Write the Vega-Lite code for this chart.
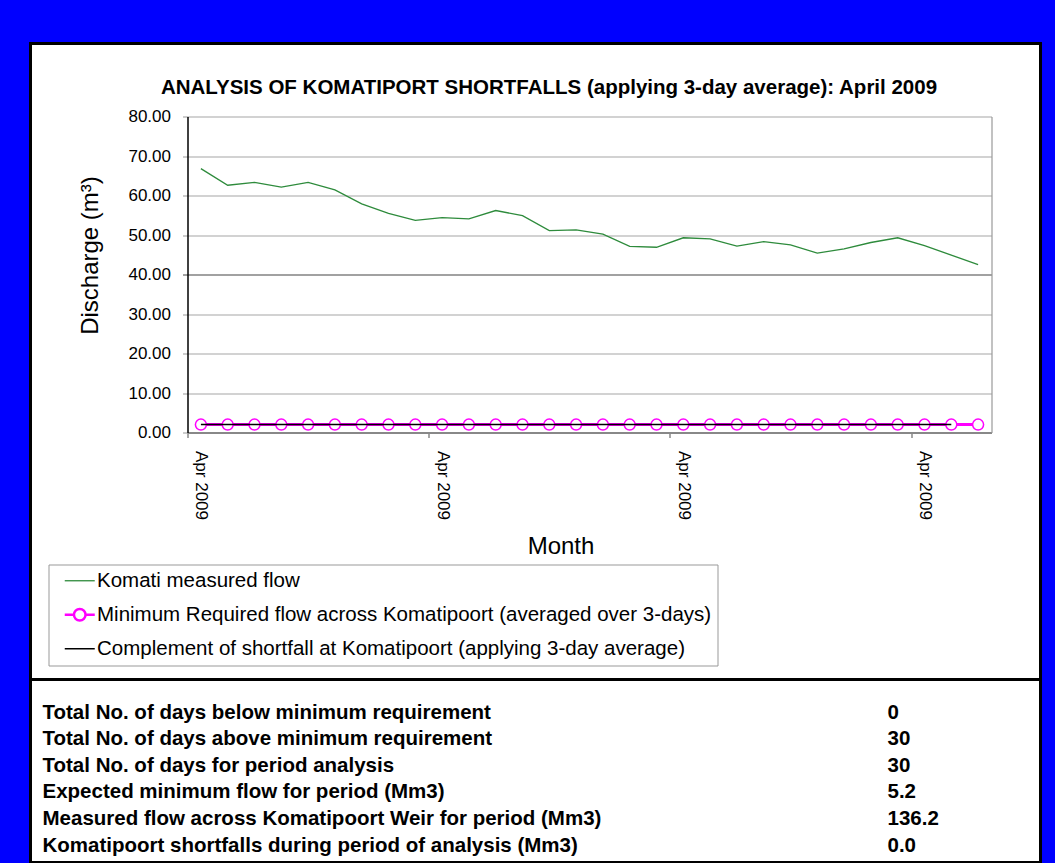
{
  "$schema": "https://vega.github.io/schema/vega-lite/v6.json",
  "background": "#0000FF",
  "padding": {"left": 28.5, "top": 41.5, "right": 13.5, "bottom": 0},
  "bounds": "flush",
  "spacing": 0,
  "config": {
    "font": "Liberation Sans",
    "view": {"fill": "white", "stroke": "black", "strokeWidth": 3},
    "axis": {"labelFont": "Liberation Sans", "titleFont": "Liberation Sans", "labelColor": "black", "titleColor": "black", "titleFontWeight": "normal"}
  },
  "vconcat": [
    {
      "width": 1010,
      "height": 636,
      "title": {"text": "ANALYSIS OF KOMATIPORT SHORTFALLS (applying 3-day average): April 2009", "font": "Liberation Sans", "fontSize": 20.5, "fontWeight": "bold", "color": "black", "anchor": "middle", "frame": "group", "baseline": "alphabetic", "offset": -70.5, "dx": 13.5},
      "data": {"values": [
        {"date": "2009-04-01", "series": "Komati measured flow", "value": 66.8},
        {"date": "2009-04-02", "series": "Komati measured flow", "value": 62.6},
        {"date": "2009-04-03", "series": "Komati measured flow", "value": 63.3},
        {"date": "2009-04-04", "series": "Komati measured flow", "value": 62.1},
        {"date": "2009-04-05", "series": "Komati measured flow", "value": 63.3},
        {"date": "2009-04-06", "series": "Komati measured flow", "value": 61.4},
        {"date": "2009-04-07", "series": "Komati measured flow", "value": 57.9},
        {"date": "2009-04-08", "series": "Komati measured flow", "value": 55.5},
        {"date": "2009-04-09", "series": "Komati measured flow", "value": 53.7},
        {"date": "2009-04-10", "series": "Komati measured flow", "value": 54.4},
        {"date": "2009-04-11", "series": "Komati measured flow", "value": 54.1},
        {"date": "2009-04-12", "series": "Komati measured flow", "value": 56.2},
        {"date": "2009-04-13", "series": "Komati measured flow", "value": 54.9},
        {"date": "2009-04-14", "series": "Komati measured flow", "value": 51.1},
        {"date": "2009-04-15", "series": "Komati measured flow", "value": 51.3},
        {"date": "2009-04-16", "series": "Komati measured flow", "value": 50.2},
        {"date": "2009-04-17", "series": "Komati measured flow", "value": 47.1},
        {"date": "2009-04-18", "series": "Komati measured flow", "value": 46.9},
        {"date": "2009-04-19", "series": "Komati measured flow", "value": 49.3},
        {"date": "2009-04-20", "series": "Komati measured flow", "value": 49.0},
        {"date": "2009-04-21", "series": "Komati measured flow", "value": 47.2},
        {"date": "2009-04-22", "series": "Komati measured flow", "value": 48.3},
        {"date": "2009-04-23", "series": "Komati measured flow", "value": 47.5},
        {"date": "2009-04-24", "series": "Komati measured flow", "value": 45.4},
        {"date": "2009-04-25", "series": "Komati measured flow", "value": 46.5},
        {"date": "2009-04-26", "series": "Komati measured flow", "value": 48.1},
        {"date": "2009-04-27", "series": "Komati measured flow", "value": 49.3},
        {"date": "2009-04-28", "series": "Komati measured flow", "value": 47.3},
        {"date": "2009-04-29", "series": "Komati measured flow", "value": 44.9},
        {"date": "2009-04-30", "series": "Komati measured flow", "value": 42.5},
        {"date": "2009-04-01", "series": "Minimum Required flow across Komatipoort (averaged over 3-days)", "value": 2.0},
        {"date": "2009-04-02", "series": "Minimum Required flow across Komatipoort (averaged over 3-days)", "value": 2.0},
        {"date": "2009-04-03", "series": "Minimum Required flow across Komatipoort (averaged over 3-days)", "value": 2.0},
        {"date": "2009-04-04", "series": "Minimum Required flow across Komatipoort (averaged over 3-days)", "value": 2.0},
        {"date": "2009-04-05", "series": "Minimum Required flow across Komatipoort (averaged over 3-days)", "value": 2.0},
        {"date": "2009-04-06", "series": "Minimum Required flow across Komatipoort (averaged over 3-days)", "value": 2.0},
        {"date": "2009-04-07", "series": "Minimum Required flow across Komatipoort (averaged over 3-days)", "value": 2.0},
        {"date": "2009-04-08", "series": "Minimum Required flow across Komatipoort (averaged over 3-days)", "value": 2.0},
        {"date": "2009-04-09", "series": "Minimum Required flow across Komatipoort (averaged over 3-days)", "value": 2.0},
        {"date": "2009-04-10", "series": "Minimum Required flow across Komatipoort (averaged over 3-days)", "value": 2.0},
        {"date": "2009-04-11", "series": "Minimum Required flow across Komatipoort (averaged over 3-days)", "value": 2.0},
        {"date": "2009-04-12", "series": "Minimum Required flow across Komatipoort (averaged over 3-days)", "value": 2.0},
        {"date": "2009-04-13", "series": "Minimum Required flow across Komatipoort (averaged over 3-days)", "value": 2.0},
        {"date": "2009-04-14", "series": "Minimum Required flow across Komatipoort (averaged over 3-days)", "value": 2.0},
        {"date": "2009-04-15", "series": "Minimum Required flow across Komatipoort (averaged over 3-days)", "value": 2.0},
        {"date": "2009-04-16", "series": "Minimum Required flow across Komatipoort (averaged over 3-days)", "value": 2.0},
        {"date": "2009-04-17", "series": "Minimum Required flow across Komatipoort (averaged over 3-days)", "value": 2.0},
        {"date": "2009-04-18", "series": "Minimum Required flow across Komatipoort (averaged over 3-days)", "value": 2.0},
        {"date": "2009-04-19", "series": "Minimum Required flow across Komatipoort (averaged over 3-days)", "value": 2.0},
        {"date": "2009-04-20", "series": "Minimum Required flow across Komatipoort (averaged over 3-days)", "value": 2.0},
        {"date": "2009-04-21", "series": "Minimum Required flow across Komatipoort (averaged over 3-days)", "value": 2.0},
        {"date": "2009-04-22", "series": "Minimum Required flow across Komatipoort (averaged over 3-days)", "value": 2.0},
        {"date": "2009-04-23", "series": "Minimum Required flow across Komatipoort (averaged over 3-days)", "value": 2.0},
        {"date": "2009-04-24", "series": "Minimum Required flow across Komatipoort (averaged over 3-days)", "value": 2.0},
        {"date": "2009-04-25", "series": "Minimum Required flow across Komatipoort (averaged over 3-days)", "value": 2.0},
        {"date": "2009-04-26", "series": "Minimum Required flow across Komatipoort (averaged over 3-days)", "value": 2.0},
        {"date": "2009-04-27", "series": "Minimum Required flow across Komatipoort (averaged over 3-days)", "value": 2.0},
        {"date": "2009-04-28", "series": "Minimum Required flow across Komatipoort (averaged over 3-days)", "value": 2.0},
        {"date": "2009-04-29", "series": "Minimum Required flow across Komatipoort (averaged over 3-days)", "value": 2.0},
        {"date": "2009-04-30", "series": "Minimum Required flow across Komatipoort (averaged over 3-days)", "value": 2.0},
        {"date": "2009-04-01", "series": "Complement of shortfall at Komatipoort (applying 3-day average)", "value": 2.0},
        {"date": "2009-04-02", "series": "Complement of shortfall at Komatipoort (applying 3-day average)", "value": 2.0},
        {"date": "2009-04-03", "series": "Complement of shortfall at Komatipoort (applying 3-day average)", "value": 2.0},
        {"date": "2009-04-04", "series": "Complement of shortfall at Komatipoort (applying 3-day average)", "value": 2.0},
        {"date": "2009-04-05", "series": "Complement of shortfall at Komatipoort (applying 3-day average)", "value": 2.0},
        {"date": "2009-04-06", "series": "Complement of shortfall at Komatipoort (applying 3-day average)", "value": 2.0},
        {"date": "2009-04-07", "series": "Complement of shortfall at Komatipoort (applying 3-day average)", "value": 2.0},
        {"date": "2009-04-08", "series": "Complement of shortfall at Komatipoort (applying 3-day average)", "value": 2.0},
        {"date": "2009-04-09", "series": "Complement of shortfall at Komatipoort (applying 3-day average)", "value": 2.0},
        {"date": "2009-04-10", "series": "Complement of shortfall at Komatipoort (applying 3-day average)", "value": 2.0},
        {"date": "2009-04-11", "series": "Complement of shortfall at Komatipoort (applying 3-day average)", "value": 2.0},
        {"date": "2009-04-12", "series": "Complement of shortfall at Komatipoort (applying 3-day average)", "value": 2.0},
        {"date": "2009-04-13", "series": "Complement of shortfall at Komatipoort (applying 3-day average)", "value": 2.0},
        {"date": "2009-04-14", "series": "Complement of shortfall at Komatipoort (applying 3-day average)", "value": 2.0},
        {"date": "2009-04-15", "series": "Complement of shortfall at Komatipoort (applying 3-day average)", "value": 2.0},
        {"date": "2009-04-16", "series": "Complement of shortfall at Komatipoort (applying 3-day average)", "value": 2.0},
        {"date": "2009-04-17", "series": "Complement of shortfall at Komatipoort (applying 3-day average)", "value": 2.0},
        {"date": "2009-04-18", "series": "Complement of shortfall at Komatipoort (applying 3-day average)", "value": 2.0},
        {"date": "2009-04-19", "series": "Complement of shortfall at Komatipoort (applying 3-day average)", "value": 2.0},
        {"date": "2009-04-20", "series": "Complement of shortfall at Komatipoort (applying 3-day average)", "value": 2.0},
        {"date": "2009-04-21", "series": "Complement of shortfall at Komatipoort (applying 3-day average)", "value": 2.0},
        {"date": "2009-04-22", "series": "Complement of shortfall at Komatipoort (applying 3-day average)", "value": 2.0},
        {"date": "2009-04-23", "series": "Complement of shortfall at Komatipoort (applying 3-day average)", "value": 2.0},
        {"date": "2009-04-24", "series": "Complement of shortfall at Komatipoort (applying 3-day average)", "value": 2.0},
        {"date": "2009-04-25", "series": "Complement of shortfall at Komatipoort (applying 3-day average)", "value": 2.0},
        {"date": "2009-04-26", "series": "Complement of shortfall at Komatipoort (applying 3-day average)", "value": 2.0},
        {"date": "2009-04-27", "series": "Complement of shortfall at Komatipoort (applying 3-day average)", "value": 2.0},
        {"date": "2009-04-28", "series": "Complement of shortfall at Komatipoort (applying 3-day average)", "value": 2.0},
        {"date": "2009-04-29", "series": "Complement of shortfall at Komatipoort (applying 3-day average)", "value": 2.0}
      ]},
      "encoding": {
        "x": {
          "field": "date", "type": "temporal", "title": "Month",
          "scale": {"type": "utc", "domain": [{"year": 2009, "month": "mar", "date": 31, "hours": 12, "utc": true}, {"year": 2009, "month": "apr", "date": 30, "hours": 12, "utc": true}], "range": [157, 961]},
          "axis": {
            "values": [{"year": 2009, "month": "apr", "date": 1, "utc": true}, {"year": 2009, "month": "apr", "date": 10, "utc": true}, {"year": 2009, "month": "apr", "date": 19, "utc": true}, {"year": 2009, "month": "apr", "date": 28, "utc": true}],
            "labelExpr": "utcFormat(datum.value, '%b %Y')",
            "labelAngle": 90, "labelAlign": "left", "labelBaseline": "middle", "labelFontSize": 17, "labelPadding": 13,
            "labelFlush": false, "labelOverlap": false,
            "tickOffset": -13.4, "labelOffset": 13.4, "tickSize": 5, "tickColor": "#888888", "tickWidth": 1.5,
            "domainColor": "#888888", "domainWidth": 2, "grid": false, "offset": -247,
            "titleFontSize": 24, "titleX": 530, "titleY": 121, "titleBaseline": "alphabetic", "titleAlign": "center"
          }
        }
      },
      "layer": [
        {
          "transform": [{"filter": "datum.series === 'Komati measured flow'"}],
          "mark": {"type": "line", "strokeWidth": 1.3},
          "encoding": {
            "y": {
              "field": "value", "type": "quantitative",
              "scale": {"domain": [0, 80], "range": [389, 73], "nice": false, "zero": false},
              "axis": {
                "values": [0, 10, 20, 30, 40, 50, 60, 70, 80], "format": ".2f",
                "labelFontSize": 17, "labelPadding": 12, "tickSize": 5,
                "tickColor": {"condition": {"test": "datum.value === 40", "value": "#444444"}, "value": "#999999"},
                "gridColor": {"condition": {"test": "datum.value === 40", "value": "#444444"}, "value": "#A6A6A6"},
                "gridWidth": 1.2, "domainColor": "black", "domainWidth": 1.5, "offset": -157,
                "title": "Discharge (m³)", "titleFontSize": 24, "titleAngle": -90, "titleX": -90, "titleY": 211.5,
                "titleBaseline": "alphabetic", "titleAlign": "center"
              }
            },
            "color": {
              "field": "series", "type": "nominal",
              "scale": {"domain": ["Komati measured flow", "Minimum Required flow across Komatipoort (averaged over 3-days)", "Complement of shortfall at Komatipoort (applying 3-day average)"], "range": ["#2E8B3C", "#FF00FF", "#000000"]},
              "legend": {
                "orient": "none", "legendX": 18, "legendY": 521, "title": null, "direction": "vertical",
                "padding": 6, "strokeColor": "#999999", "fillColor": "white",
                "labelFont": "Liberation Sans", "labelFontSize": 20.5, "labelColor": "black", "labelLimit": 900,
                "symbolSize": 400, "symbolOffset": 15, "labelOffset": 7, "rowPadding": 12,
                "encode": {"symbols": {"update": {
                  "shape": {"signal": "datum.value === 'Minimum Required flow across Komatipoort (averaged over 3-days)' ? 'M-1.5,0H-0.58M0.58,0H1.5M-0.58,0A0.58,0.58,0,1,1,0.58,0A0.58,0.58,0,1,1,-0.58,0' : 'M-1.5,0H1.5'"},
                  "strokeWidth": {"signal": "datum.value === 'Minimum Required flow across Komatipoort (averaged over 3-days)' ? 2.5 : (datum.value === 'Komati measured flow' ? 1.3 : 1.5)"},
                  "fill": {"value": "white"}
                }}}
              }
            }
          }
        },
        {
          "transform": [{"filter": "datum.series === 'Minimum Required flow across Komatipoort (averaged over 3-days)'"}],
          "mark": {"type": "line", "strokeWidth": 3},
          "encoding": {
            "y": {"field": "value", "type": "quantitative", "axis": null},
            "color": {"field": "series", "type": "nominal"}
          }
        },
        {
          "transform": [{"filter": "datum.series === 'Minimum Required flow across Komatipoort (averaged over 3-days)'"}],
          "mark": {"type": "point", "shape": "circle", "filled": true, "fill": "white", "stroke": "#FF00FF", "strokeWidth": 1.5, "size": 121, "opacity": 1},
          "encoding": {
            "y": {"field": "value", "type": "quantitative",
              "axis": {"orient": "right", "offset": -49, "labels": false, "ticks": false, "grid": false, "domain": true, "domainColor": "#999999", "domainWidth": 1.2, "title": null}}
          }
        },
        {
          "transform": [{"filter": "datum.series === 'Complement of shortfall at Komatipoort (applying 3-day average)'"}],
          "mark": {"type": "line", "strokeWidth": 1.5},
          "encoding": {
            "y": {"field": "value", "type": "quantitative", "axis": null},
            "color": {"field": "series", "type": "nominal"}
          }
        }
      ],
      "resolve": {"axis": {"y": "independent"}}
    },
    {
      "width": 1010,
      "height": 183,
      "data": {"values": [
        {"row": 1, "item": "Total No. of days below minimum requirement", "value": "0"},
        {"row": 2, "item": "Total No. of days above minimum requirement", "value": "30"},
        {"row": 3, "item": "Total No. of days for period analysis", "value": "30"},
        {"row": 4, "item": "Expected minimum flow for period (Mm3)", "value": "5.2"},
        {"row": 5, "item": "Measured flow across Komatipoort Weir for period (Mm3)", "value": "136.2"},
        {"row": 6, "item": "Komatipoort shortfalls during period of analysis (Mm3)", "value": "0.0"}
      ]},
      "encoding": {
        "y": {"field": "row", "type": "ordinal", "scale": {"type": "point", "range": [33, 166], "padding": 0}, "axis": null}
      },
      "layer": [
        {
          "mark": {"type": "text", "align": "left", "baseline": "middle", "font": "Liberation Sans", "fontWeight": "bold", "fontSize": 20.5, "color": "black"},
          "encoding": {
            "x": {"datum": "Item", "type": "nominal", "scale": {"type": "point", "domain": ["Item", "Value"], "range": [12, 857], "padding": 0}, "axis": null},
            "text": {"field": "item"}
          }
        },
        {
          "mark": {"type": "text", "align": "left", "baseline": "middle", "font": "Liberation Sans", "fontWeight": "bold", "fontSize": 20.5, "color": "black"},
          "encoding": {
            "x": {"datum": "Value", "type": "nominal", "axis": null},
            "text": {"field": "value"}
          }
        }
      ]
    }
  ]
}
